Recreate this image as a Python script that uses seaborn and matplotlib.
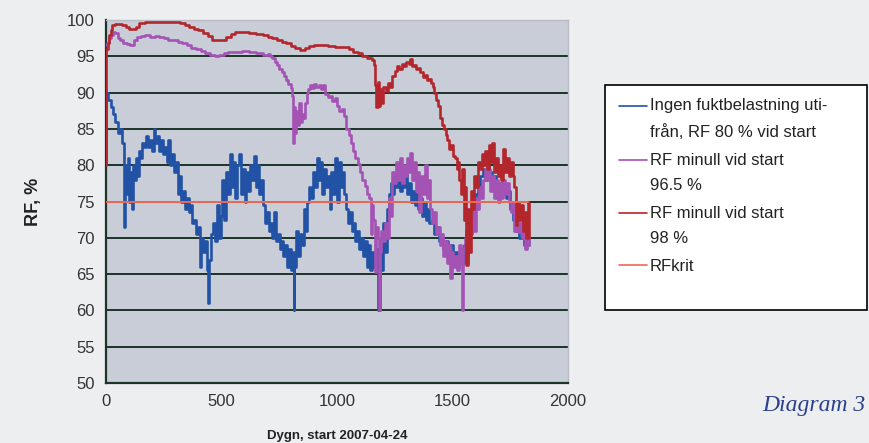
import matplotlib
matplotlib.use("Agg")
import numpy as np
import matplotlib.pyplot as plt
from matplotlib.patches import Rectangle
from matplotlib.legend_handler import HandlerLine2D
import seaborn as sns

# (dygn, RF %)
blue_points = [
    (0, 80), (2, 90), (10, 89), (20, 88), (30, 87), (40, 86), (50, 84.5), (60, 85),
    (68, 83), (76, 82), (79, 71.5), (82, 80), (88, 76), (94, 81), (100, 75), (106, 79),
    (112, 74), (118, 80), (124, 78), (130, 81), (136, 78.5), (142, 82), (150, 81),
    (158, 83), (166, 82.5), (174, 84), (182, 82.5), (190, 83.5), (198, 82), (206, 85),
    (214, 83), (222, 84), (230, 82), (238, 83.5), (246, 81.5), (254, 82.5), (262, 80.5),
    (270, 83.5), (278, 80), (286, 81.5), (294, 79), (302, 80.5), (310, 76), (318, 78.5),
    (326, 75), (334, 76.5), (342, 74), (350, 75.5), (358, 73.5), (366, 74.5), (374, 72),
    (382, 72.5), (390, 70.5), (398, 71.5), (406, 66), (412, 70), (420, 68), (428, 69.5),
    (436, 65.5), (442, 61), (448, 67), (456, 70.5), (464, 72), (472, 69.5), (480, 74.5),
    (488, 70), (496, 73), (504, 78), (512, 72.5), (520, 79), (528, 76), (536, 81.5),
    (544, 77), (552, 80.5), (560, 75.5), (568, 80), (576, 81.5), (584, 76), (592, 79.5),
    (600, 75), (608, 79), (616, 76.5), (624, 80), (632, 78), (640, 81.3), (648, 77),
    (656, 80), (664, 76), (672, 78), (680, 74.5), (688, 72), (696, 73.5), (704, 71),
    (712, 72), (720, 70), (728, 73.5), (736, 69.5), (744, 70.5), (752, 68.5), (760, 69.5),
    (768, 67.5), (776, 69), (784, 66), (792, 68.5), (800, 65.5), (808, 68), (812, 60),
    (816, 66), (824, 71), (832, 67.5), (840, 70.5), (848, 69), (856, 74), (864, 71),
    (872, 75), (880, 77), (888, 75.5), (896, 79), (904, 77), (912, 81), (920, 78),
    (928, 80.5), (936, 76), (944, 79.5), (952, 77), (960, 78.5), (968, 74), (976, 79),
    (984, 76), (992, 81), (1000, 75), (1008, 80.5), (1016, 77), (1024, 79), (1032, 76),
    (1040, 74), (1048, 72), (1056, 73.5), (1064, 71), (1072, 72), (1080, 69.5),
    (1088, 71), (1096, 68.5), (1104, 70), (1112, 67.5), (1120, 69.5), (1128, 66),
    (1136, 69), (1144, 65.5), (1152, 68), (1160, 66), (1168, 68.5), (1176, 60),
    (1184, 70), (1192, 65.5), (1200, 72), (1208, 68), (1216, 74), (1224, 76),
    (1232, 77.5), (1240, 76), (1248, 78.5), (1256, 77), (1264, 79), (1272, 76.5),
    (1280, 78), (1288, 77), (1296, 79), (1304, 76), (1312, 77.5), (1320, 75),
    (1328, 76.5), (1336, 74.5), (1344, 76), (1352, 74), (1360, 75.5), (1368, 73),
    (1376, 75), (1384, 72.5), (1392, 74), (1400, 72), (1410, 72.5), (1420, 70.5),
    (1430, 71.5), (1440, 69.5), (1450, 70), (1460, 68.5), (1470, 69.5), (1480, 67.5),
    (1490, 69), (1500, 67), (1510, 68), (1520, 66), (1530, 67.5), (1540, 66.5),
    (1550, 69), (1560, 71), (1570, 73), (1580, 72), (1590, 74.5), (1600, 76),
    (1610, 77), (1620, 78.5), (1630, 79.5), (1640, 78), (1650, 80), (1660, 79),
    (1670, 77.5), (1680, 78.5), (1690, 76.5), (1700, 77.5), (1710, 76), (1720, 77),
    (1730, 75.5), (1740, 76.5), (1750, 74), (1760, 72.5), (1770, 71), (1780, 72),
    (1790, 70), (1800, 71), (1810, 69), (1820, 69.5), (1830, 69),
]

purple_points = [
    (0, 96.5), (5, 96.8), (12, 97.5), (20, 98), (30, 98.3), (40, 98.2), (50, 97.5),
    (60, 97.2), (75, 96.9), (90, 96.7), (105, 96.6), (120, 97.2), (135, 97.6),
    (150, 97.8), (170, 97.9), (190, 97.7), (210, 97.8), (230, 97.6), (250, 97.5),
    (270, 97.3), (290, 97.2), (310, 97.0), (330, 96.8), (350, 96.5), (370, 96.2),
    (390, 96.0), (410, 95.7), (430, 95.4), (450, 95.2), (470, 95.0), (490, 95.2),
    (510, 95.5), (530, 95.6), (560, 95.6), (590, 95.7), (620, 95.6), (650, 95.4),
    (680, 95.2), (700, 95.3), (710, 95.0), (720, 94.7), (730, 94.2), (740, 93.8),
    (750, 93.3), (760, 92.8), (770, 92.3), (780, 91.8), (790, 91.2), (800, 90.6),
    (806, 89.5), (810, 83), (814, 88), (818, 84.5), (824, 87.5), (830, 85.5),
    (836, 88.5), (842, 86), (848, 87), (854, 86.5), (860, 88.5), (868, 90),
    (876, 90.5), (884, 91), (892, 90.6), (900, 91.2), (910, 90.8), (920, 91),
    (930, 90.5), (940, 91), (950, 89.8), (960, 89.4), (970, 89.6), (980, 88.8),
    (990, 89.2), (1000, 88.2), (1010, 87.5), (1020, 87.8), (1030, 86.8), (1040, 85),
    (1050, 84.2), (1060, 83), (1070, 82), (1080, 81), (1090, 80.2), (1100, 79),
    (1110, 78), (1120, 77.2), (1130, 76), (1140, 75.5), (1146, 70.5), (1150, 74.5),
    (1158, 72.5), (1165, 65.3), (1170, 71.5), (1176, 70), (1180, 60), (1184, 68),
    (1192, 71), (1200, 69.5), (1208, 72), (1216, 70), (1224, 75.5), (1232, 73),
    (1240, 79), (1248, 77.5), (1256, 80.5), (1264, 78), (1272, 81), (1280, 77.5),
    (1288, 80), (1296, 78.5), (1304, 81), (1312, 79), (1318, 81.7), (1324, 78),
    (1332, 80.5), (1340, 76.5), (1348, 79), (1356, 73.5), (1364, 78.5), (1372, 76),
    (1380, 80), (1388, 75.5), (1396, 78), (1404, 74), (1412, 72), (1420, 73.5),
    (1428, 70.5), (1436, 71.5), (1444, 69), (1452, 70.5), (1460, 67.5), (1468, 69.5),
    (1476, 66.5), (1484, 69), (1490, 64.5), (1496, 68), (1504, 66), (1512, 67.5),
    (1520, 65.5), (1528, 69), (1536, 66.5), (1541, 60), (1546, 68.5), (1552, 70),
    (1560, 66.5), (1568, 72), (1576, 70.5), (1584, 74), (1592, 71), (1600, 75.5),
    (1608, 74), (1616, 77), (1624, 75.5), (1632, 78), (1640, 79.5), (1648, 78),
    (1656, 79.5), (1664, 76.5), (1672, 78.5), (1680, 75.5), (1688, 78), (1696, 75),
    (1704, 77.5), (1712, 75.5), (1720, 78), (1728, 76), (1736, 77.5), (1744, 75),
    (1752, 73.5), (1760, 75), (1768, 71), (1776, 73), (1784, 70.8), (1792, 72),
    (1800, 70), (1808, 71.5), (1816, 68.5), (1824, 70), (1830, 69),
]

red_points = [
    (0, 80), (2, 96), (8, 96.8), (14, 98), (20, 98.6), (28, 99.3), (40, 99.5),
    (55, 99.5), (70, 99.3), (85, 99.0), (100, 98.8), (115, 98.7), (130, 99.0),
    (145, 99.6), (170, 99.7), (200, 99.7), (230, 99.7), (260, 99.7), (290, 99.7),
    (320, 99.6), (340, 99.3), (360, 99.1), (380, 98.8), (400, 98.6), (420, 98.2),
    (440, 97.8), (460, 97.3), (480, 97.2), (500, 97.3), (520, 97.7), (540, 98.1),
    (560, 98.3), (590, 98.3), (620, 98.2), (650, 98.1), (680, 97.9), (700, 97.7),
    (720, 97.5), (740, 97.2), (760, 97.0), (780, 96.8), (800, 96.4), (820, 96.1),
    (840, 95.9), (860, 96.1), (880, 96.4), (900, 96.5), (930, 96.5), (960, 96.4),
    (990, 96.3), (1020, 96.3), (1050, 96.0), (1070, 95.6), (1090, 95.4), (1110, 95.1),
    (1130, 94.8), (1150, 94.5), (1160, 93.8), (1166, 91), (1170, 88), (1176, 91.5),
    (1182, 88.2), (1188, 90.5), (1194, 88.5), (1200, 90.8), (1210, 90.2), (1220, 91.3),
    (1230, 90.8), (1240, 92.3), (1250, 93), (1260, 93.6), (1270, 93.3), (1280, 94),
    (1290, 93.6), (1300, 94.2), (1310, 93.9), (1318, 94.6), (1326, 93.6), (1334, 93.8),
    (1342, 93.2), (1350, 93.4), (1358, 92.9), (1366, 92.8), (1374, 92.2), (1382, 92.4),
    (1390, 91.8), (1398, 91.9), (1406, 91.3), (1414, 90.8), (1422, 90), (1430, 89),
    (1438, 88.2), (1446, 86.5), (1454, 85.5), (1462, 85), (1470, 84.2), (1478, 83.5),
    (1486, 82.2), (1494, 82.8), (1502, 81.2), (1510, 81), (1518, 79.5), (1524, 80.5),
    (1530, 78), (1536, 76), (1542, 79.5), (1548, 72.5), (1554, 77), (1560, 66.2),
    (1566, 74), (1572, 68), (1578, 76.5), (1586, 74), (1594, 78.5), (1602, 77),
    (1610, 80.5), (1618, 79.5), (1626, 81.5), (1634, 80), (1642, 82), (1650, 79.5),
    (1656, 82.8), (1664, 80.5), (1672, 83), (1680, 79), (1688, 81), (1696, 78.5),
    (1704, 80), (1712, 78), (1720, 82.3), (1728, 79), (1736, 81), (1744, 78.5),
    (1752, 80.5), (1760, 78.5), (1768, 77), (1774, 71.7), (1780, 75), (1788, 72.5),
    (1796, 74.5), (1804, 71), (1812, 73.5), (1818, 70), (1824, 72.5), (1828, 75),
    (1830, 70),
]

rfkrit_days = [0, 1827]
rfkrit_rf = [75, 75]

labels = [
    "Ingen fuktbelastning uti-\nfrån, RF 80 % vid start",
    "RF minull vid start\n96.5 %",
    "RF minull vid start\n98 %",
    "RFkrit",
]
colors = ["#2152a6", "#a452b4", "#b3262b", "#ee6a55"]

x_ticks = [0, 500, 1000, 1500, 2000]
y_ticks = [50, 55, 60, 65, 70, 75, 80, 85, 90, 95, 100]


class RaisedLine(HandlerLine2D):
    """Legend line drawn level with the first row of a two-row label."""

    def __init__(self, dy, **kw):
        super().__init__(**kw)
        self.dy = dy

    def create_artists(self, legend, orig_handle, xdescent, ydescent, width, height,
                       fontsize, trans):
        arts = super().create_artists(legend, orig_handle, xdescent, ydescent, width,
                                      height, fontsize, trans)
        for a in arts:
            a.set_ydata(np.asarray(a.get_ydata()) + self.dy * fontsize)
        return arts


sns.set_style("white")
plt.rcParams["font.family"] = ["Liberation Sans", "DejaVu Sans"]

fig = plt.figure(figsize=(8.69, 4.43), dpi=100, facecolor="#eceef0")
ax = fig.add_axes([106 / 869, 1 - 383 / 443, 462 / 869, 363 / 443])
ax.set_facecolor("#c9cdd8")

# horizontal grid lines
for yv in y_ticks[1:-1]:
    ax.axhline(yv, color="#1c3327", lw=1.4, zorder=1)

series = [blue_points, purple_points, red_points]
for pts, lab, col in zip(series, labels[:3], colors[:3]):
    days, rf = zip(*pts)
    sns.lineplot(x=list(days), y=list(rf), ax=ax, color=col, lw=1.9,
                 drawstyle="steps-post", label=lab, zorder=3)
sns.lineplot(x=rfkrit_days, y=rfkrit_rf, ax=ax, color=colors[3], lw=1.4,
             label=labels[3], zorder=4)

ax.set_xlim(0, 2000)
ax.set_ylim(50, 100)
ax.set_xticks(x_ticks)
ax.set_yticks(y_ticks)
ax.tick_params(axis="both", direction="out", length=5, width=1.3, color="#1c3327",
               labelsize=12, labelcolor="#333333", pad=3)
for side in ["left", "bottom"]:
    ax.spines[side].set_color("#1c3327")
    ax.spines[side].set_linewidth(1.6)
for side in ["top", "right"]:
    ax.spines[side].set_color("#b9bcc4")
    ax.spines[side].set_linewidth(1.0)

ax.set_xlabel("Dygn, start 2007-04-24", fontsize=9.5, fontweight="bold", color="#222222",
              labelpad=15)
ax.set_ylabel("RF, %", fontsize=13, fontweight="bold", color="#222222", labelpad=18)

# legend box and legend
handles, labs = ax.get_legend_handles_labels()
ax.get_legend().remove()
box = Rectangle((605 / 869, 1 - 310 / 443), 262 / 869, 225 / 443,
                transform=fig.transFigure, facecolor="white",
                edgecolor="black", lw=1.2, zorder=5)
fig.add_artist(box)
hmap = {h: RaisedLine(0.78) for h, l in zip(handles, labs) if "\n" in l}
leg = fig.legend(handles, labs, loc="upper left", bbox_to_anchor=(607 / 869, 1 - 86 / 443),
                 frameon=False, fontsize=12, handlelength=1.7, handletextpad=0.15,
                 labelspacing=0.78, borderpad=0.2, handler_map=hmap)
leg.set_zorder(6)
for t in leg.get_texts():
    t.set_linespacing(1.85)
    t.set_color("#222222")
for ln in leg.get_lines():
    ln.set_linewidth(1.2)

fig.text(866 / 869, 1 - 405 / 443, "Diagram 3", ha="right", va="center", fontsize=17,
         style="italic", color="#2b3f8c", family=["Liberation Serif", "DejaVu Serif"])

fig.savefig("out.png", dpi=100, facecolor=fig.get_facecolor())
